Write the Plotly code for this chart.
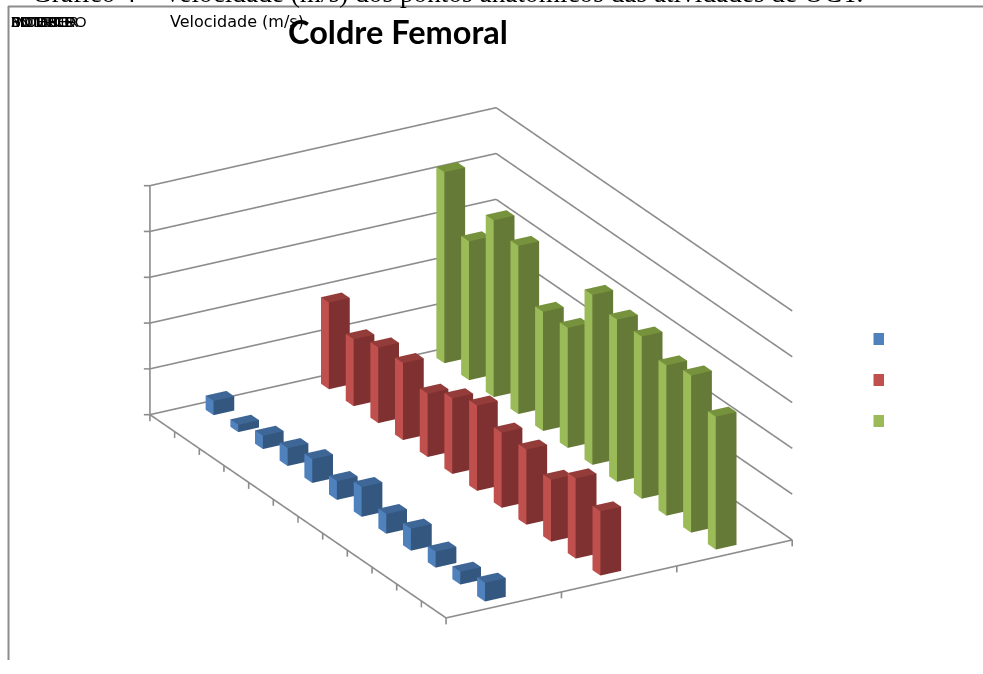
import math
import plotly.graph_objects as go

categories = list(range(1, 13))
series_names = ["Série 1", "Série 2", "Série 3"]
blue_values = [0.31, 0.16, 0.29, 0.39, 0.52, 0.41, 0.65, 0.43, 0.48, 0.35, 0.28, 0.41]
red_values = [1.89, 1.46, 1.65, 1.68, 1.38, 1.65, 1.86, 1.64, 1.64, 1.35, 1.75, 1.40]
green_values = [4.17, 3.03, 3.86, 3.67, 2.60, 2.62, 3.71, 3.54, 3.54, 3.28, 3.43, 2.90]
z_ticks = [0, 1, 2, 3, 4, 5]

side_colors = ["#4F81BD", "#C0504D", "#9BBB59"]
front_colors = ["#345780", "#7E3130", "#657A36"]
top_colors = ["#3E6797", "#943C3A", "#76923C"]

BAR_X = 0.32
BAR_Y = 0.18
GRID = "#8C8C8C"

fig = go.Figure()

xr = [-0.1, 12.03]
yr = [-0.06, 3.03]
zr = [-0.2, 5.03]


def mesh(values, k):
    xs, ys, zs, ii, jj, kk, fc = [], [], [], [], [], [], []
    y0, y1 = k + 0.5 - BAR_Y / 2, k + 0.5 + BAR_Y / 2
    for c, v in enumerate(values):
        x0, x1 = c + 0.5 - BAR_X / 2, c + 0.5 + BAR_X / 2
        b = len(xs)
        for z in (0, v):
            xs += [x0, x1, x1, x0]
            ys += [y0, y0, y1, y1]
            zs += [z, z, z, z]
        quads = [
            ((0, 1, 5, 4), side_colors[k]),   # -y face
            ((1, 2, 6, 5), front_colors[k]),  # +x face
            ((4, 5, 6, 7), top_colors[k]),    # top
        ]
        for (p, q, r, s), col in quads:
            ii += [b + p, b + p]
            jj += [b + q, b + r]
            kk += [b + r, b + s]
            fc += [col, col]
    return go.Mesh3d(x=xs, y=ys, z=zs, i=ii, j=jj, k=kk, facecolor=fc, flatshading=True,
                     lighting=dict(ambient=1, diffuse=0, specular=0, roughness=1, fresnel=0),
                     hoverinfo="skip", showscale=False, name=series_names[k])


lx, ly, lz = [], [], []


def seg(a, b):
    lx.extend([a[0], b[0], None])
    ly.extend([a[1], b[1], None])
    lz.extend([a[2], b[2], None])


n = len(categories)
for z in z_ticks:
    seg((0, 0, z), (0, 3, z))
    seg((0, 3, z), (n, 3, z))
    seg((-0.06, -0.04, z), (0, 0, z))
seg((0, 0, 0), (0, 0, z_ticks[-1]))
seg((0, 0, 0), (n, 0, 0))
seg((n, 0, 0), (n, 3, 0))
for c in range(n + 1):
    seg((c, 0, 0), (c, 0, -0.14))
for j in range(1, 4):
    seg((n, j, 0), (n, j, -0.14))

fig.add_trace(go.Scatter3d(x=lx, y=ly, z=lz, mode="lines", line=dict(color=GRID, width=3.2),
                           hoverinfo="skip", showlegend=False))
for k, vals in enumerate([blue_values, red_values, green_values]):
    fig.add_trace(mesh(vals, k))

Lx = (xr[1] - xr[0]) / 12 * 595.6
Ly = (yr[1] - yr[0]) / 3 * 398.8
Lz = (zr[1] - zr[0]) / 5 * 249.0
norm = 307.4
D = 2.0
el = math.radians(23.15)
ph = math.radians(29.8)
eye = dict(x=D * math.cos(el) * math.cos(ph), y=-D * math.cos(el) * math.sin(ph), z=D * math.sin(el))


def hidden(r):
    return dict(visible=False, range=r, autorange=False, showspikes=False)


fig.update_layout(
    width=983, height=674, autosize=False, paper_bgcolor="white", showlegend=False,
    margin=dict(l=0, r=0, t=0, b=0),
    scene=dict(
        domain=dict(x=[0, 0.9535], y=[0, 0.9119]),
        xaxis=hidden(xr), yaxis=hidden(yr), zaxis=hidden(zr),
        aspectmode="manual", aspectratio=dict(x=Lx / norm, y=Ly / norm, z=Lz / norm),
        bgcolor="white",
        camera=dict(eye=eye, up=dict(x=0, y=0, z=1), center=dict(x=0, y=0, z=0),
                    projection=dict(type="orthographic")),
    ),
)

# frame lines (top and left)
fig.add_shape(type="line", xref="paper", yref="paper", x0=8 / 983, x1=1, y0=1 - 6.5 / 674, y1=1 - 6.5 / 674,
              line=dict(color=GRID, width=2))
fig.add_shape(type="line", xref="paper", yref="paper", x0=8.5 / 983, x1=8.5 / 983, y0=1 - 6 / 674, y1=1 - 660 / 674,
              line=dict(color=GRID, width=2))

# legend keys (labels are blank in the source)
for cy, col in zip([339, 380, 421], side_colors):
    fig.add_shape(type="rect", xref="paper", yref="paper", x0=873.5 / 983, x1=884 / 983,
                  y0=1 - (cy - 6) / 674, y1=1 - (cy + 6) / 674, fillcolor=col, line=dict(width=0))


def note(text, x, y, size, family, color="black", weight=None):
    fig.add_annotation(text=text, xref="paper", yref="paper", x=x / 983, y=1 - y / 674, xanchor="left", yanchor="middle",
                       showarrow=False, font=dict(size=size, family=family, color=color, weight=weight))


note("Gráfico 4 – Velocidade (m/s) dos pontos anatômicos das atividades de OCT.", 30, -7, 27.3, "Liberation Serif")
note("Coldre Femoral", 286, 31.5, 32.5, "Lato", weight=700)
note("Velocidade (m/s)", 168, 21.5, 16, "DejaVu Sans")
for word in ["MODELO", "INTERCE", "ENTERO", "3D INTER", "BOMBERO"]:
    note(word, 9, 21.5, 15.3, "Noto Sans")

fig.write_html("out.html", config=dict(displayModeBar=False), post_script="document.body.style.margin='0';")
